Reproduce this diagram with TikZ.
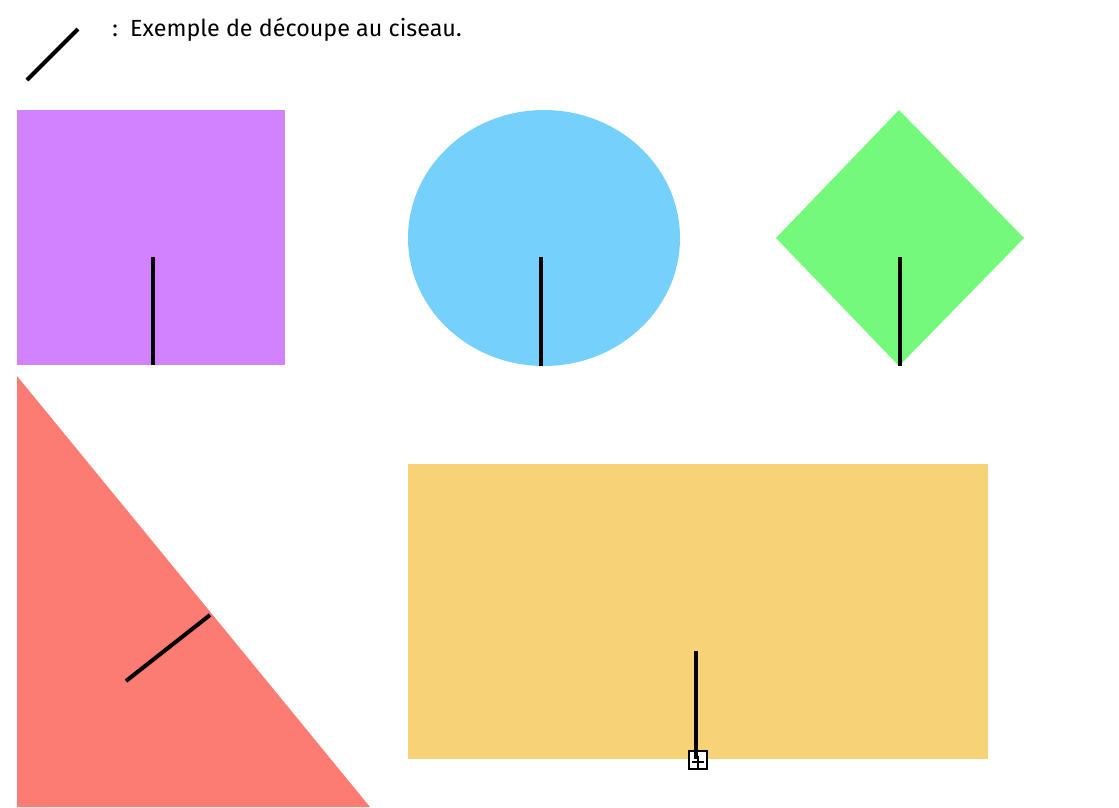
\documentclass[tikz,border=0pt]{standalone}
\usepackage{fontspec}
\setmainfont{Fira Sans}
\begin{document}
\begin{tikzpicture}[x=0.75pt,y=-0.75pt,
  cut/.style={line width=3pt,black},
  shapefill/.style={draw=none}]
\definecolor{cpurple}{RGB}{210,130,255}
\definecolor{cblue}{RGB}{117,208,252}
\definecolor{cgreen}{RGB}{117,249,122}
\definecolor{cred}{RGB}{252,123,115}
\definecolor{cyellow}{RGB}{248,210,119}
\useasboundingbox (0,0) rectangle (1119,807);
% legend
\coordinate (l1) at (27,80);
\coordinate (l2) at (78,29);
\draw[cut] (l1) -- (l2);
\node[anchor=west,font=\fontsize{17.5}{21}\selectfont,inner sep=0pt] (legend) at (112,30) {:\ \ Exemple de découpe au ciseau.};
% purple square
\fill[cpurple] (17,110) rectangle (285,365);
\coordinate (p1) at (153,257); \coordinate (p2) at (153,365);
\draw[cut] (p1) -- (p2);
% blue circle
\fill[cblue] (544,238) ellipse [x radius=136, y radius=128];
\coordinate (b1) at (541,257); \coordinate (b2) at (541,366);
\draw[cut] (b1) -- (b2);
% green diamond
\fill[cgreen] (776,238) -- (899,110) -- (1024,238) -- (899,366) -- cycle;
\coordinate (g1) at (900,257); \coordinate (g2) at (900,366);
\draw[cut] (g1) -- (g2);
% red triangle
\fill[cred] (17,376) -- (17,807) -- (370,807) -- cycle;
\coordinate (r1) at (126,681); \coordinate (r2) at (210,615);
\draw[cut] (r1) -- (r2);
% yellow rectangle
\fill[cyellow] (408,464) rectangle (988,759);
\coordinate (y1) at (696,651); \coordinate (y2) at (696,759);
\draw[cut] (y1) -- (y2);
% small handle box
\draw[line width=1.2pt,black,fill=white] (689,751) rectangle (707,769);
\draw[line width=1.2pt,black] (692,762) -- (704,762) (698,756) -- (698,768);
\draw[line width=3pt] (696,751) -- (696,759);
\end{tikzpicture}
\end{document}
